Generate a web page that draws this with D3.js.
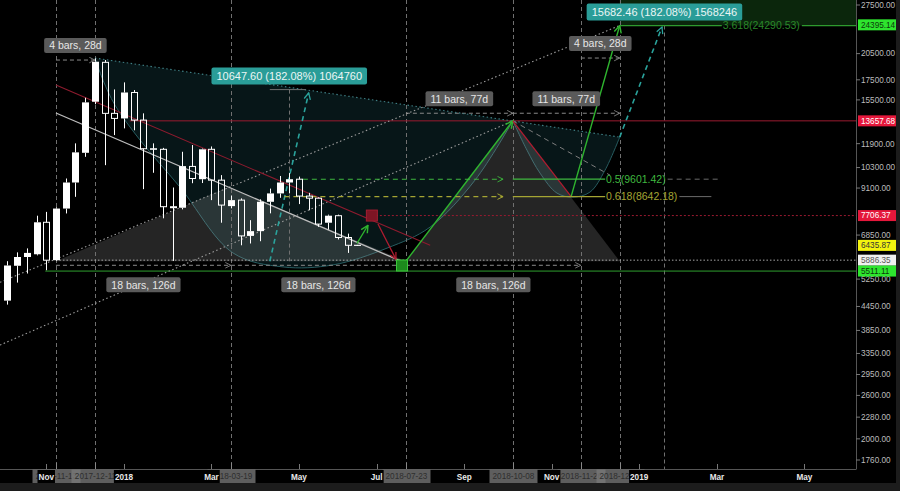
<!DOCTYPE html>
<html><head><meta charset="utf-8">
<script src="https://cdn.jsdelivr.net/npm/d3@7/dist/d3.min.js"></script>
<style>html,body{margin:0;padding:0;background:#000;overflow:hidden;}svg{display:block;font-family:"Liberation Sans",Arial,sans-serif;}</style>
</head><body>
<svg id="chart" width="900" height="491"></svg>
<script>
// ---------------- DATA (weekly candles) ----------------
const candleDates = ["2017-10-09","2017-10-16","2017-10-23","2017-10-30","2017-11-06","2017-11-13","2017-11-20","2017-11-27","2017-12-04","2017-12-11","2017-12-18","2017-12-25",
  "2018-01-01","2018-01-08","2018-01-15","2018-01-22","2018-01-29","2018-02-05","2018-02-12","2018-02-19","2018-02-26","2018-03-05","2018-03-12","2018-03-19",
  "2018-03-26","2018-04-02","2018-04-09","2018-04-16","2018-04-23","2018-04-30","2018-05-07","2018-05-14","2018-05-21","2018-05-28","2018-06-04","2018-06-11","2018-06-18"];
const opens  = [4610,5690,6000,6100,7400,5885,8040,9410,11260,15330,19450,14290,13860,16210,13720,11540,11500,8130,8080,10370,9600,11500,9545,8160,8460,6815,7015,8375,8810,9410,9600,8670,8560,7380,7700,6750,6440];
const highs  = [5850,6170,6320,7700,7880,8100,9640,11920,15700,19920,19720,16510,17230,16450,14290,11920,11600,9130,11330,11800,11550,11700,9840,8700,8550,7495,8500,9070,9790,9960,9750,8840,8600,7750,7750,6910,6455];
const lows   = [4500,5140,5430,6060,5540,5860,7805,8630,10990,15100,10450,12530,13050,12900,9040,9980,7580,5860,8000,9370,9380,8460,7380,8050,6440,6510,6600,7810,8580,8810,8260,7960,7200,7080,6670,6150,6420];
const closes = [5700,6000,6150,7400,5885,8040,9410,11290,15270,19520,14290,13860,16210,13720,11540,11500,8130,8080,10390,9640,11500,9545,8210,8460,6815,7015,8375,8810,9410,9600,8670,8560,7320,7700,6750,6440,6435.87];

// axis ticks
const priceTicks = [27500,20500,17500,15500,11900,10300,9100,6850,5250,4450,3850,3350,2950,2600,2280,2000,1760];
const priceLabelValues = [24395.14,13657.68,7706.37,6435.87,5886.35,5511.11];
const monthTickDates  = ["2017-11-06","2018-01-01","2018-03-05","2018-05-07","2018-07-02","2018-09-03","2018-11-05","2019-01-07","2019-03-04","2019-05-06"];
const monthTickLabels = ["Nov","2018","Mar","May","Jul","Sep","Nov","2019","Mar","May"];
const markerWeeks = [-7,-3,11,29,40,47,51];            // week offsets from 2018-01-01 (vertical dashed lines / date boxes)
const extraVLineWeeks = [55.6];

// annotation drawings (week offset from 2018-01-01, price)
const BASE = 5847.7, PEAK = 13657.68;
const rangeFrom  = [-7,-7,11,29,29,40,47];
const rangeTo    = [-3,11,29,47,40,51,51];
const rangePrice = [19720,5707,5707,5707,14300,14300,19960];
const rangeSide  = [-1,1,1,1,-1,-1,-1];

const triWeeks  = [[-7,10.7,29],[29,40,51]];
const triPrices = [[BASE,9150,BASE],[BASE,PEAK,BASE]];

const arc1Weeks  = [-2.98,-2.16,-0.93,1.65,5.76,11.21,16.36,21.5,27.06,31.48,36.11,40];
const arc1Prices = [19960,17470,15020,12160,9150,6150,5650,5720,6330,7185,9545,PEAK];
const arc2Weeks  = [40,41.46,42.8,44.55,46.19,47.94,49.49,51];
const arc2Prices = [PEAK,11440,9960,8825,8615,8880,10140,12380];

const prWeeks = [17,55.6], prBase = [5847.7,8613.0], prTop = [16495.3,24295.46];
const prArrowFrom = [[15,BASE],[51,12380]], prArrowTo = [[19,16160],[55.35,24080]];

const fibValues = [9601.42,8642.18], fibNames = ["0.5","0.618"];
const extValue = 24290.53, extName = "3.618";

// ---------------- SCALES ----------------
const parse = d3.utcParse("%Y-%m-%d");
const T0 = Date.UTC(2018,0,1), WEEK = 7*86400000;
const wk = n => new Date(T0 + n*WEEK);
const x = d3.scaleUtc().domain([wk(0), wk(53)]).range([124, 639.16]);
const y = d3.scaleLog().domain([27500,1760]).range([5,460]);
const PX = n => x(wk(n));
const PR = 856, PB = 469;

const svg = d3.select("#chart");
svg.append("rect").attr("width",900).attr("height",491).attr("fill","#000");
const defs = svg.append("defs");
defs.append("clipPath").attr("id","plotClip").append("rect").attr("x",0).attr("y",0).attr("width",PR).attr("height",PB);
function mk(id,color,size,sw){
  const m = defs.append("marker").attr("id",id).attr("viewBox","0 0 10 10").attr("refX",9).attr("refY",5)
    .attr("markerWidth",size).attr("markerHeight",size).attr("orient","auto").attr("markerUnits","userSpaceOnUse");
  m.append("path").attr("d","M1,1 L9,5 L1,9").attr("fill","none").attr("stroke",color).attr("stroke-width",sw);
}
mk("mGreen","#2fb52f",9,1.6); mk("mRed","#b01c30",8,1.6); mk("mCyan","#2aa39c",8,1.6);
mk("mGrey","#8a8a8a",7,1.2); mk("mGreenD","#3aa83a",7,1.4); mk("mYel","#a8a832",7,1.4);

const g = svg.append("g").attr("clip-path","url(#plotClip)");
function seg(n1,p1,n2,p2,stroke,sw,dash,marker){
  const l = g.append("line").attr("x1",PX(n1)).attr("y1",y(p1)).attr("x2",PX(n2)).attr("y2",y(p2))
    .attr("stroke",stroke).attr("stroke-width",sw);
  if(dash) l.attr("stroke-dasharray",dash);
  if(marker) l.attr("marker-end",`url(#${marker})`);
  return l;
}
function hline(p,n1,x2,stroke,sw,dash){
  const l = g.append("line").attr("x1",PX(n1)).attr("x2",x2).attr("y1",y(p)).attr("y2",y(p)).attr("stroke",stroke).attr("stroke-width",sw);
  if(dash) l.attr("stroke-dasharray",dash);
}

// green extension fill at top
g.append("rect").attr("x",PX(51)).attr("y",0).attr("width",PR-PX(51)).attr("height",y(prTop[1])).attr("fill","#0b260c");

// teal arc fills
const curveLine = d3.line().curve(d3.curveCatmullRom.alpha(0.5));
function arcShape(ws,ps){
  const pts = ws.map((w,i)=>[PX(w),y(ps[i])]);
  const d = curveLine(pts);
  g.append("path").attr("d",d+"Z").attr("fill","rgba(45,150,160,0.15)").attr("stroke","none");
  g.append("path").attr("d",d).attr("fill","none").attr("stroke","#275d61").attr("stroke-width",1);
}
arcShape(arc1Weeks,arc1Prices);
arcShape(arc2Weeks,arc2Prices);

// grey triangles
triWeeks.forEach((ws,k)=>{
  const pts = ws.map((w,i)=>[PX(w),y(triPrices[k][i])]);
  g.append("path").attr("d",d3.line()(pts)+"Z").attr("fill","rgba(170,170,170,0.22)");
});

// vertical dashed lines
markerWeeks.concat(extraVLineWeeks).forEach(w=>{
  const xx = Math.round(PX(w))+0.5;
  g.append("line").attr("x1",xx).attr("x2",xx).attr("y1",w>55?y(prTop[1]):0).attr("y2",PB)
    .attr("stroke","#707070").attr("stroke-width",1).attr("stroke-dasharray","4,3");
});

// horizontal levels
hline(PEAK,0.6,PR,"#9a1a30",1);
hline(7706.37,25.5,PR,"#9a1a30",1,"2,2");
hline(5886.35,-7,PR,"#a8a8a8",1,"1.5,2");
hline(5511.11,-8.1,PR,"#2f9f2f",1);

// date ranges (dashed with arrow)
rangeFrom.forEach((f,i)=>seg(f,rangePrice[i],rangeTo[i],rangePrice[i],"#8a8a8a",1,"4,3","mGrey"));

// dotted diagonals
seg(-12.76,3524,40,PEAK,"#9c9c9c",1.1,"1.5,2.5");
seg(-12.76,5150,51,24295,"#9c9c9c",1.1,"1.5,2.5");
seg(-2.98,19960,51,12380,"#3f7f84",1.1,"1.5,2.5");
// trend lines
seg(-7,16950,31.5,6440,"#8e1b2e",1.1);
seg(-7,14320,28.5,5850,"#bdbdbd",1.3);
seg(40,PEAK,50,9837,"#7d7d7d",1,"5,4");

// candles
const cg = svg.append("g").attr("clip-path","url(#plotClip)");
candleDates.forEach((d,i)=>{
  const cx = Math.round(x(parse(d)))+0.5;
  const o=opens[i], c=closes[i], h=highs[i], l=lows[i];
  const top=y(Math.max(o,c)), bot=y(Math.min(o,c));
  const up = c>=o;
  if (y(h) < top) cg.append("line").attr("x1",cx).attr("x2",cx).attr("y1",y(h)).attr("y2",top).attr("stroke","#fff");
  if (y(l) > bot) cg.append("line").attr("x1",cx).attr("x2",cx).attr("y1",bot).attr("y2",y(l)).attr("stroke","#fff");
  if (up) cg.append("rect").attr("x",cx-3.5).attr("y",top).attr("width",7).attr("height",Math.max(1,bot-top)).attr("fill","#fff");
  else cg.append("rect").attr("x",cx-3).attr("y",top).attr("width",6).attr("height",Math.max(0,bot-top)).attr("fill","none").attr("stroke","#fff").attr("stroke-width",1);
});

// wave arrows
seg(29,BASE,40,PEAK,"#2fb52f",1.4,null,"mGreen");
seg(40,PEAK,46,fibValues[1],"#b01c30",1.3);
seg(46,fibValues[1],51,prTop[1],"#2fb52f",1.4,null,"mGreen");
seg(23.97,6518,25.1,7267,"#2fb52f",1.3,null,"mGreen");
seg(26.13,7322,27.98,5920,"#b01c30",1.3,null,"mRed");
// squares
function square(w,p,fill,stroke){
  g.append("rect").attr("x",PX(w)-5.5).attr("y",y(p)-5.5).attr("width",11).attr("height",11).attr("fill",fill).attr("stroke",stroke);
}
square(25.5,7706.37,"#7d1524","#a31d31");
square(28.6,5700,"#1d8a1d","#3cc83c");

// price range tools
prWeeks.forEach((w,i)=>{
  const xx = Math.round(PX(w))+0.5;
  if(i===0){
    g.append("line").attr("x1",xx).attr("x2",xx).attr("y1",y(prTop[i])).attr("y2",y(prBase[i])).attr("stroke","#707070").attr("stroke-dasharray","4,3");
    g.append("line").attr("x1",PX(w-2)).attr("x2",PX(w+1.7)).attr("y1",y(prTop[i])).attr("y2",y(prTop[i])).attr("stroke","#707070");
  }
  seg(prArrowFrom[i][0],prArrowFrom[i][1],prArrowTo[i][0],prArrowTo[i][1],"#2aa39c",1.6,"5,4","mCyan");
});

// fib retracement levels
const fibColors = ["#3fb83f","#a5a533"];
fibValues.forEach((v,i)=>{
  seg(i===0?18.4:16.5,v,39,v,fibColors[i],1.1,"5,4",i===0?"mGreenD":"mYel");
  seg(40,v,49.5,v,fibColors[i],1.3);
  const t = g.append("text").attr("x",PX(49.6)).attr("y",y(v)).attr("dy","0.35em").attr("fill",fibColors[i])
    .attr("font-size","10.5px").text(`${fibNames[i]}(${v.toFixed(2)})`);
  const tw = t.node().getComputedTextLength();
  const tx = PX(49.6)+tw+2;
  g.append("line").attr("x1",tx).attr("x2",tx+(i===0?52:32)).attr("y1",y(v)).attr("y2",y(v))
    .attr("stroke","#6a6a6a").attr("stroke-dasharray",i===0?"5,4":null);
});
// extension
seg(51,extValue,61.5,extValue,"#2e9a2e",1.2);
{
  const t = g.append("text").attr("x",PX(61.6)).attr("y",y(extValue)).attr("dy","0.35em").attr("fill","#2a862a")
    .attr("font-size","10.5px").text(`${extName}(${extValue.toFixed(2)})`);
  const tw = t.node().getComputedTextLength();
  g.append("line").attr("x1",PX(61.6)+tw+2).attr("x2",PR).attr("y1",y(extValue)).attr("y2",y(extValue)).attr("stroke","#2e9a2e").attr("stroke-width",1.2);
}

// labels
function boxLabel(cx,cy,text,fill,color,fs,h){
  const lg = svg.append("g");
  const t = lg.append("text").attr("x",cx).attr("y",cy).attr("dy","0.36em").attr("text-anchor","middle")
    .attr("fill",color).attr("font-size",fs).text(text);
  const w = t.node().getComputedTextLength()+10;
  lg.insert("rect","text").attr("x",cx-w/2).attr("y",cy-h/2).attr("width",w).attr("height",h).attr("rx",2).attr("fill",fill);
}
rangeFrom.forEach((f,i)=>{
  const n = rangeTo[i]-f;
  const cy = y(rangePrice[i]) + (rangeSide[i]>0 ? 19.5 : -14.5);
  boxLabel(PX((f+rangeTo[i])/2), cy, `${n} bars, ${n*7}d`, "#5a5a5a", "#e6e6e6", "10.5px", 15);
});
prWeeks.forEach((w,i)=>{
  const diff = prTop[i]-prBase[i];
  const txt = `${diff.toFixed(2)} (${(diff/prBase[i]*100).toFixed(2)}%) ${Math.round(diff*100)}`;
  boxLabel(PX(w), y(prTop[i])-13.5, txt, "#2a9d98", "#eaf6f5", "11px", 17);
});

// ---------------- AXES ----------------
svg.append("rect").attr("x",0).attr("y",483).attr("width",900).attr("height",8).attr("fill","#1c1c1c");
svg.append("rect").attr("x",896).attr("y",0).attr("width",4).attr("height",491).attr("fill","#1c1c1c");
svg.append("line").attr("x1",PR+0.5).attr("x2",PR+0.5).attr("y1",0).attr("y2",PB).attr("stroke","#555");
svg.append("line").attr("x1",0).attr("x2",PR+0.5).attr("y1",PB+0.5).attr("y2",PB+0.5).attr("stroke","#555");

const ya = svg.append("g");
priceTicks.forEach(v=>{
  ya.append("line").attr("x1",PR).attr("x2",PR+4).attr("y1",y(v)).attr("y2",y(v)).attr("stroke","#777");
  ya.append("text").attr("x",861).attr("y",y(v)).attr("dy","0.35em").attr("fill","#bcbcbc").attr("font-size","8.2px").text(v.toFixed(2));
});
const plBg = ["#2ee52e","#e5173b","#e5173b","#f3f30f","#f0f0f0","#2ee52e"];
const plFg = ["#0b3a0b","#ffffff","#ffffff","#333333","#555555","#0b3a0b"];
priceLabelValues.forEach((v,i)=>{
  ya.append("rect").attr("x",858).attr("y",y(v)-5.5).attr("width",38).attr("height",11).attr("fill",plBg[i]);
  ya.append("text").attr("x",861).attr("y",y(v)).attr("dy","0.35em").attr("fill",plFg[i]).attr("font-size","8.2px").text(v.toFixed(2));
});

const xa = svg.append("g");
const fmt = d3.utcFormat("%Y-%m-%d");
monthTickDates.forEach(d=>{
  const xx = Math.round(x(parse(d)))+0.5;
  xa.append("line").attr("x1",xx).attr("x2",xx).attr("y1",PB-5).attr("y2",PB).attr("stroke","#777");
});
markerWeeks.forEach(w=>{
  const xx = Math.round(PX(w))+0.5;
  xa.append("line").attr("x1",xx).attr("x2",xx).attr("y1",PB-6).attr("y2",PB).attr("stroke","#888");
  xa.append("rect").attr("x",xx-24).attr("y",PB+0.5).attr("width",48).attr("height",13.5).attr("fill","rgba(120,120,120,0.78)");
  xa.append("text").attr("x",xx).attr("y",PB+7.5).attr("dy","0.35em").attr("text-anchor","middle").attr("fill","#2e2e2e")
    .attr("font-size","8.2px").text(fmt(wk(w)));
});
monthTickDates.forEach((d,i)=>{
  const xx = x(parse(d));
  const t = xa.append("text").attr("x",xx).attr("y",PB+8).attr("dy","0.35em").attr("text-anchor","middle").attr("fill","#e8e8e8")
    .attr("font-size","8.2px").attr("font-weight","bold").text(monthTickLabels[i]);
  const w = t.node().getComputedTextLength();
  xa.insert("rect","text:last-child").attr("x",xx-w/2-1).attr("y",PB+1).attr("width",w+2).attr("height",13).attr("fill","#000");
});
</script>
</body></html>
